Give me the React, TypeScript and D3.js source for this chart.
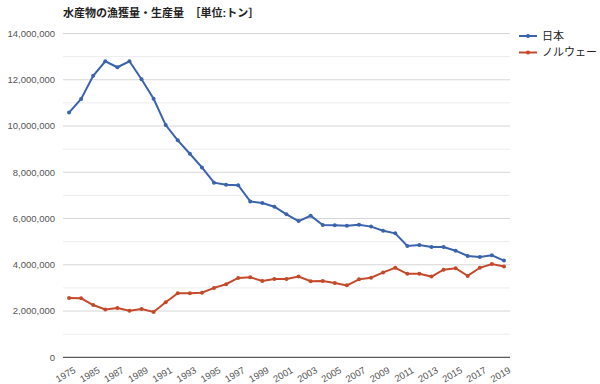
import React from "react";
import * as d3 from "d3";

const years = [1975, 1980, 1985, 1986, 1987, 1988, 1989, 1990, 1991, 1992, 1993, 1994, 1995, 1996, 1997, 1998, 1999, 2000, 2001, 2002, 2003, 2004, 2005, 2006, 2007, 2008, 2009, 2010, 2011, 2012, 2013, 2014, 2015, 2016, 2017, 2018, 2019];

const japan = [10580000, 11170000, 12170000, 12800000, 12540000, 12800000, 12020000, 11180000, 10040000, 9380000, 8800000, 8210000, 7550000, 7460000, 7440000, 6740000, 6670000, 6510000, 6180000, 5890000, 6120000, 5720000, 5710000, 5690000, 5730000, 5650000, 5470000, 5360000, 4810000, 4860000, 4770000, 4770000, 4610000, 4380000, 4340000, 4410000, 4180000];

const norway = [2560000, 2550000, 2260000, 2070000, 2130000, 2010000, 2090000, 1960000, 2380000, 2770000, 2770000, 2790000, 3000000, 3160000, 3430000, 3460000, 3300000, 3390000, 3390000, 3490000, 3290000, 3300000, 3210000, 3110000, 3370000, 3440000, 3670000, 3870000, 3610000, 3610000, 3490000, 3790000, 3850000, 3520000, 3870000, 4030000, 3930000];

const seriesNames = ["日本", "ノルウェー"];
const colors = ["#3a62ad", "#c4492a"];
const title = "水産物の漁獲量・生産量　［単位:トン］";
const yTicks = [0, 2000000, 4000000, 6000000, 8000000, 10000000, 12000000, 14000000];
const minorTicks = [1000000, 3000000, 5000000, 7000000, 9000000, 11000000, 13000000];

const W = 600, H = 384;
const left = 63, right = 510, top = 33.5, bottom = 357.3;
const font = "Arial, 'Liberation Sans', 'Noto Sans CJK JP', sans-serif";

export default function App() {
  const x = d3.scaleBand<number>().domain(years).range([left, right]);
  const y = d3.scaleLinear().domain([0, 14000000]).range([bottom, top]);
  const cx = (yr: number) => (x(yr) as number) + x.bandwidth() / 2;
  const fmt = d3.format(",");
  const series = [japan, norway];
  const line = d3.line<number>().x((_, i) => cx(years[i])).y((d) => y(d));

  return (
    <svg width={W} height={H} style={{ position: "absolute", left: 0, top: 0, background: "#fff" }} fontFamily={font}>
      <text x={63} y={16.5} fontSize={11} fontWeight="bold" fill="#222">{title}</text>
      {minorTicks.map((t) => (
        <line key={"m" + t} x1={left} x2={right} y1={y(t)} y2={y(t)} stroke="#ececec" strokeWidth={1} />
      ))}
      {yTicks.map((t) => (
        <g key={t}>
          {t !== 0 && <line x1={left} x2={right} y1={y(t)} y2={y(t)} stroke="#d6d6d6" strokeWidth={1} />}
          <text x={55} y={y(t)} dy="0.35em" textAnchor="end" fontSize={9.5} fill="#555">{fmt(t)}</text>
        </g>
      ))}
      <line x1={left} x2={right} y1={bottom} y2={bottom} stroke="#333" strokeWidth={1} />
      {years.map((yr, i) =>
        i % 2 === 0 ? (
          <text key={yr} transform={`translate(${cx(yr) + 4},${bottom + 9}) rotate(-30)`} textAnchor="end" dy="0.7em" fontSize={9.5} fill="#555">{yr}</text>
        ) : null
      )}
      {series.map((s, k) => (
        <g key={k}>
          <path d={line(s) || ""} fill="none" stroke={colors[k]} strokeWidth={2} />
          {s.map((v, i) => (
            <circle key={i} cx={cx(years[i])} cy={y(v)} r={2} fill={colors[k]} />
          ))}
        </g>
      ))}
      {seriesNames.map((n, k) => (
        <g key={n} transform={`translate(519,${36 + k * 16.5})`}>
          <line x1={0} x2={18} y1={0} y2={0} stroke={colors[k]} strokeWidth={2} />
          <circle cx={9} cy={0} r={2} fill={colors[k]} />
          <text x={23} y={0} dy="0.35em" fontSize={11} fill="#222">{n}</text>
        </g>
      ))}
    </svg>
  );
}
